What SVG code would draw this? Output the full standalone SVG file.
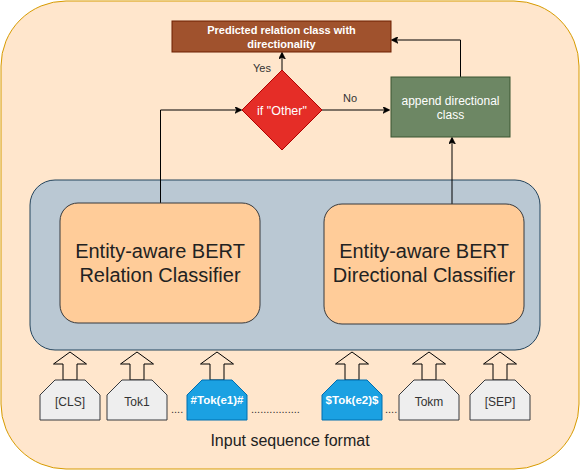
<svg xmlns="http://www.w3.org/2000/svg" width="581" height="471" viewBox="0 0 581 471">
<defs>
<style>
text{font-family:"Liberation Sans",Arial,sans-serif;}
.edge{fill:none;stroke:#000;stroke-width:1;}
.tok{fill:#eeeeee;stroke:#36393d;stroke-width:1;}
.tokb{fill:#1ba1e2;stroke:#006eaf;stroke-width:1;}
.barrow{fill:none;stroke:#000;stroke-width:1;}
.tt{font-size:12px;fill:#333;text-anchor:middle;}
.ttb{font-size:11.5px;fill:#fff;font-weight:bold;text-anchor:middle;}
.big{font-size:20px;fill:#222;text-anchor:middle;}
.lbl{font-size:11px;fill:#333;text-anchor:middle;}
.dots{font-size:11px;fill:#333;}
</style>
<marker id="ah" viewBox="0 0 10 10" refX="9" refY="5" markerWidth="7" markerHeight="7" orient="auto" markerUnits="userSpaceOnUse">
<path d="M0,0 L10,5 L0,10 L3,5 Z" fill="#000" stroke="#000"/>
</marker>
</defs>
<g id="background">
<rect x="1" y="1" width="578" height="468" rx="65" ry="65" fill="#ffe6cc" stroke="#d79b00" stroke-width="1"/>
</g>
<g id="container">
<rect x="30" y="180" width="510" height="170" rx="25" ry="25" fill="#bac8d3" stroke="#23445d" stroke-width="1"/>
</g>
<g id="connectors">
<polyline class="edge" points="160.5,203 160.5,110 241,110" marker-end="url(#ah)"/>
<line class="edge" x1="282" y1="70" x2="282" y2="53" marker-end="url(#ah)"/>
<line class="edge" x1="322" y1="110" x2="389" y2="110" marker-end="url(#ah)"/>
<line class="edge" x1="452" y1="204" x2="452" y2="138" marker-end="url(#ah)"/>
<polyline class="edge" points="460.5,77 460.5,40 392,40" marker-end="url(#ah)"/>
<text class="lbl" x="262" y="72">Yes</text>
<text class="lbl" x="350" y="102">No</text>
</g>
<g id="relation-classifier">
<rect x="60" y="203" width="200" height="120" rx="18" ry="18" fill="#ffcc99" stroke="#36393d" stroke-width="1"/>
<text class="big" x="160" y="258">Entity-aware BERT</text>
<text class="big" x="160" y="282">Relation Classifier</text>
</g>
<g id="directional-classifier">
<rect x="324" y="204" width="200" height="120" rx="18" ry="18" fill="#ffcc99" stroke="#36393d" stroke-width="1"/>
<text class="big" x="424" y="258">Entity-aware BERT</text>
<text class="big" x="424" y="282">Directional Classifier</text>
</g>
<g id="predicted">
<rect x="172" y="21" width="219" height="31" fill="#a0522d" stroke="#6d1f00" stroke-width="1"/>
<text x="281.5" y="34" font-size="11" font-weight="bold" fill="#fff" text-anchor="middle">Predicted relation class with</text>
<text x="281.5" y="48" font-size="11" font-weight="bold" fill="#fff" text-anchor="middle">directionality</text>
</g>
<g id="if-other">
<polygon points="282,70 322,110 282,150 242,110" fill="#e52d27" stroke="#b20000" stroke-width="1"/>
<text x="282" y="114.5" font-size="12.5" fill="#fff" text-anchor="middle">if "Other"</text>
</g>
<g id="append">
<rect x="391" y="77" width="119" height="60" fill="#6d8764" stroke="#3a5431" stroke-width="1"/>
<text x="450.5" y="105" font-size="12" fill="#fff" text-anchor="middle">append directional</text>
<text x="450.5" y="119" font-size="12" fill="#fff" text-anchor="middle">class</text>
</g>
<g id="tok-cls">
<path class="barrow" d="M70,352 L86.5,364 L77,364 L77,380 L63,380 L63,364 L53.5,364 Z"/>
<path class="tok" d="M55,380 L85,380 L100,395 L100,420 L40,420 L40,395 Z"/>
<text class="tt" x="70" y="406">[CLS]</text>
</g>
<g id="tok-1">
<path class="barrow" d="M137,352 L153.5,364 L144,364 L144,380 L130,380 L130,364 L120.5,364 Z"/>
<path class="tok" d="M122,380 L152,380 L167,395 L167,420 L107,420 L107,395 Z"/>
<text class="tt" x="137" y="406">Tok1</text>
</g>
<g id="tok-e1">
<path class="barrow" d="M217,352 L233.5,364 L224,364 L224,380 L210,380 L210,364 L200.5,364 Z"/>
<path class="tokb" d="M202,380 L232,380 L247,395 L247,420 L187,420 L187,395 Z"/>
<text class="ttb" x="217" y="404">#Tok(e1)#</text>
</g>
<g id="tok-e2">
<path class="barrow" d="M352,352 L368.5,364 L359,364 L359,380 L345,380 L345,364 L335.5,364 Z"/>
<path class="tokb" d="M337,380 L367,380 L382,395 L382,420 L322,420 L322,395 Z"/>
<text class="ttb" x="352" y="404">$Tok(e2)$</text>
</g>
<g id="tok-m">
<path class="barrow" d="M429,352 L445.5,364 L436,364 L436,380 L422,380 L422,364 L412.5,364 Z"/>
<path class="tok" d="M414,380 L444,380 L459,395 L459,420 L399,420 L399,395 Z"/>
<text class="tt" x="429" y="406">Tokm</text>
</g>
<g id="tok-sep">
<path class="barrow" d="M500,352 L516.5,364 L507,364 L507,380 L493,380 L493,364 L483.5,364 Z"/>
<path class="tok" d="M485,380 L515,380 L530,395 L530,420 L470,420 L470,395 Z"/>
<text class="tt" x="500" y="406">[SEP]</text>
</g>
<g id="dots">
<text class="dots" x="171" y="413">....</text>
<text class="dots" x="251" y="413">................</text>
<text class="dots" x="385" y="413">....</text>
</g>
<g id="caption">
<text x="290" y="446" font-size="16" fill="#222" text-anchor="middle">Input sequence format</text>
</g>
</svg>
